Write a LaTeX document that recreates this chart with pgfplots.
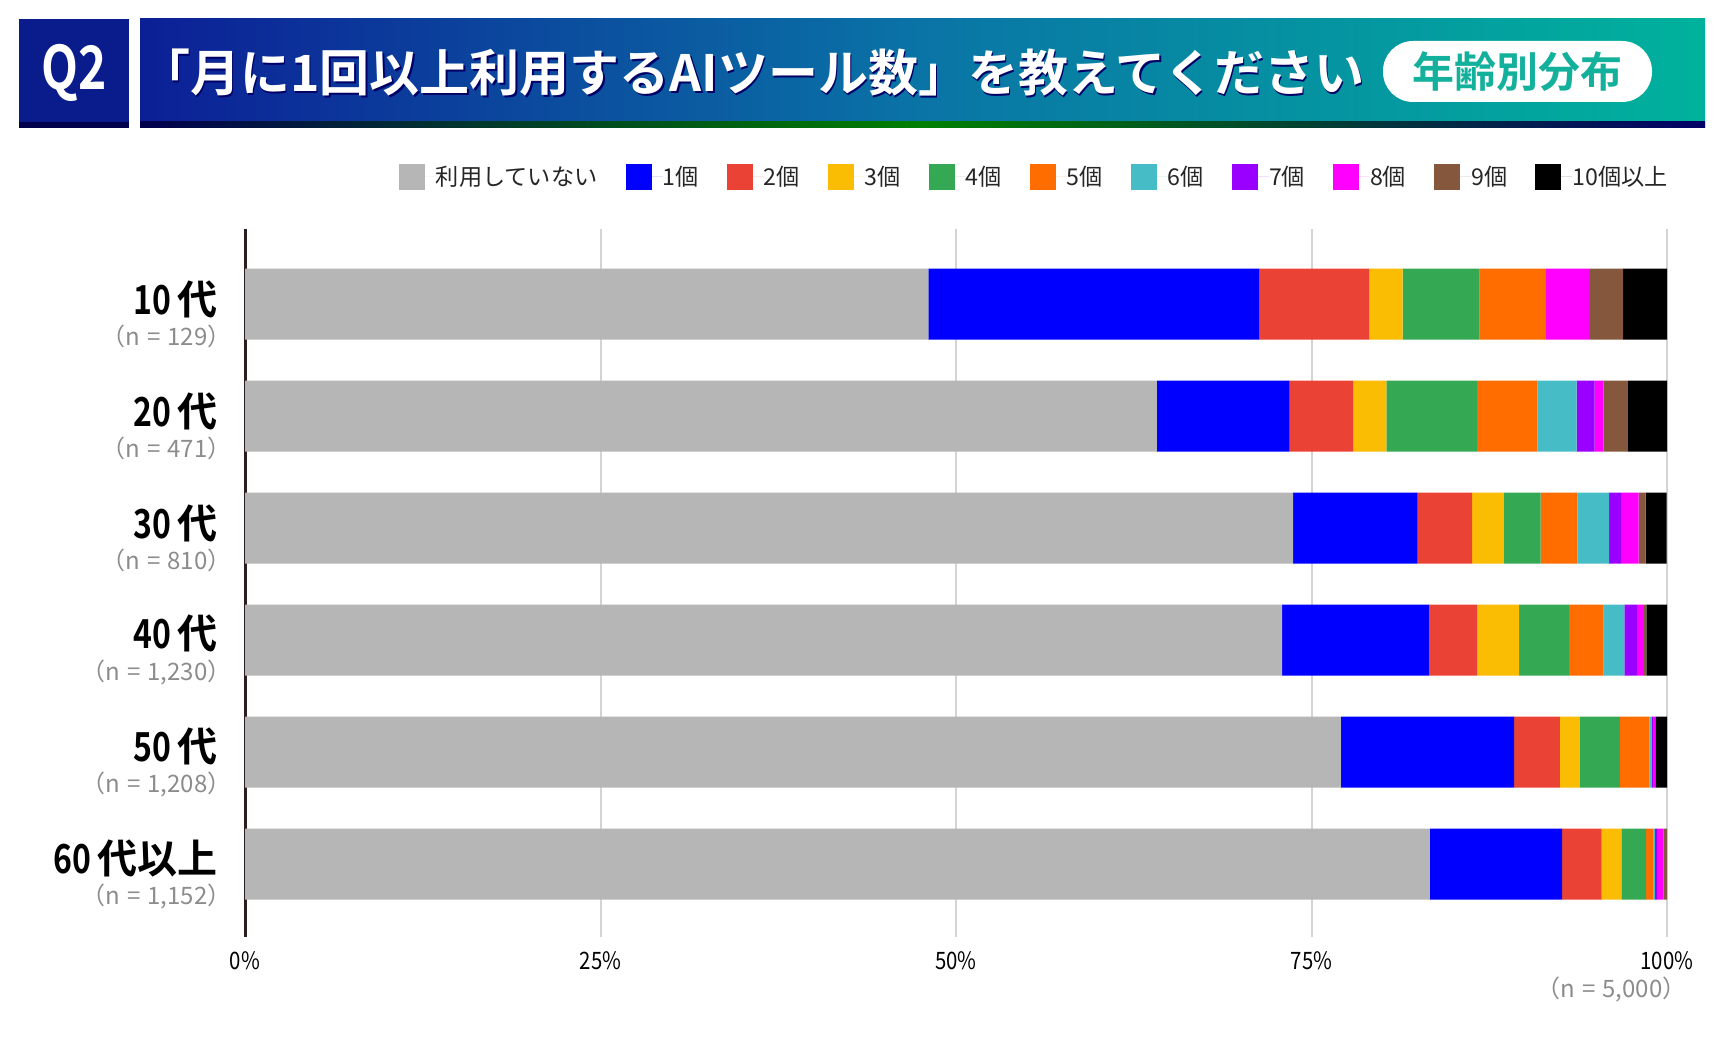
\documentclass[border=0pt]{standalone}
\usepackage{fontspec}
\usepackage{pgfplots}
\pgfplotsset{compat=1.18}
\usepackage{pgfplotstable}
\setmainfont{Noto Sans CJK JP}[BoldFont={Noto Sans CJK JP Bold}]
\newfontfamily\jp{Noto Sans CJK JP}
\newfontfamily\jpB{Noto Sans CJK JP Bold}
\newfontfamily\jpC{Noto Sans CJK JP}[FakeStretch=0.85]
\newfontfamily\jpBC{Noto Sans CJK JP Bold}[FakeStretch=0.8]

\definecolor{cnone}{HTML}{B6B6B6}
\definecolor{c1}{HTML}{0000FF}
\definecolor{c2}{HTML}{EA4335}
\definecolor{c3}{HTML}{FBBC04}
\definecolor{c4}{HTML}{34A853}
\definecolor{c5}{HTML}{FF6D01}
\definecolor{c6}{HTML}{46BDC6}
\definecolor{c7}{HTML}{9900FF}
\definecolor{c8}{HTML}{FF00FF}
\definecolor{c9}{HTML}{85573D}
\definecolor{c10}{HTML}{000000}
\definecolor{gridc}{HTML}{D4D4D4}
\definecolor{axc}{HTML}{2B1E1E}
\definecolor{subgray}{HTML}{8C8C8C}
\definecolor{q2blue}{HTML}{0A1C8C}
\definecolor{tl}{HTML}{0C1F96}
\definecolor{tm}{HTML}{0A74A6}
\definecolor{tr}{HTML}{00B29C}
\definecolor{pilltxt}{HTML}{13B09C}

% share of respondents (%), 10代 at y=5 ... 60代以上 at y=0
\pgfplotstableread{
idx none  c1    c2   c3   c4   c5   c6   c7   c8   c9   c10
5   48.06 23.26 7.75 2.33 5.43 4.65 0    0    3.10 2.33 3.10
4   64.12 9.34  4.46 2.34 6.37 4.25 2.76 1.27 0.64 1.70 2.76
3   73.70 8.77  3.83 2.22 2.59 2.59 2.22 0.86 1.23 0.49 1.48
2   72.93 10.33 3.41 2.93 3.50 2.44 1.46 0.89 0.49 0.16 1.46
1   77.07 12.17 3.23 1.41 2.81 2.07 0.17 0.08 0.17 0    0.83
0   83.33 9.29  2.78 1.39 1.74 0.52 0.09 0.17 0.43 0.26 0
}\agedata

\newcommand\nlab[1]{（n\hspace{3.5pt}=\hspace{3.5pt}#1）}
\newcommand\cat[3]{{\fontsize{20}{22}\selectfont\jpBC #1\hspace{3pt}\jpB #2}\\{\fontsize{12}{13}\selectfont\jp\color{subgray}\nlab{#3}\kern-7pt}}

\begin{document}
\begin{tikzpicture}
\path[use as bounding box] (0,0) rectangle (862pt,527pt);

% header band
\fill[q2blue] (9.5pt,463pt) rectangle (64.5pt,517.5pt);
\shade[left color=tl, right color=tr, middle color=tm] (70pt,463pt) rectangle (852.5pt,517.5pt);
\shade[left color=black!70!blue, right color=black!60!blue, middle color=black!50!green] (70pt,463pt) rectangle (852.5pt,466pt);
\fill[black!70!blue] (9.5pt,463pt) rectangle (64.5pt,466pt);
\node[text=white, font=\jpBC\fontsize{30}{32}\selectfont] at (37pt,490.5pt) {Q2};
\node[anchor=west, text=black!60!blue, font=\jpB\fontsize{25}{27}\selectfont] at (67.4pt,489.7pt) {「月に1回以上利用するAIツール数」を教えてください};
\node[anchor=west, text=white, font=\jpB\fontsize{25}{27}\selectfont] at (66.6pt,490.5pt) {「月に1回以上利用するAIツール数」を教えてください};
\fill[white, rounded corners=15pt] (691.5pt,476pt) rectangle (826pt,506.5pt);
\node[text=pilltxt, font=\jpB\fontsize{21}{23}\selectfont] at (758.7pt,491pt) {年齢別分布};

\begin{axis}[
  at={(122.5pt,58.5pt)}, anchor=south west,
  scale only axis, width=711pt, height=354pt,
  xbar stacked, bar width=35.5pt,
  xmin=0, xmax=100, ymin=-0.65, ymax=5.67,
  clip=false,
  axis line style={draw=none},
  major tick length=0pt,
  xtick={0,25,50,75,100},
  xticklabels={0\%,25\%,50\%,75\%,100\%},
  xticklabel style={font=\jpC\fontsize{12}{14}\selectfont, anchor=north, inner sep=0pt, yshift=-7pt},
  xmajorgrids, major x grid style={draw=gridc, line width=1pt},
  ytick={0,1,2,3,4,5},
  yticklabels={{\cat{60}{代以上}{1,152}},{\cat{50}{代}{1,208}},{\cat{40}{代}{1,230}},{\cat{30}{代}{810}},{\cat{20}{代}{471}},{\cat{10}{代}{129}}},
  yticklabel style={font=\fontsize{12}{15.9}\selectfont, align=right, anchor=east, inner sep=0pt, xshift=-13.5pt, yshift=-5.1pt},
  legend columns=11,
  legend style={at={(1,1)}, anchor=east, xshift=0.5pt, yshift=26pt, draw=none, fill=none, inner sep=0pt,
    nodes={inner sep=0pt},
    font=\jp\fontsize{11.6}{13}\selectfont, text=black!85,
    /tikz/every even column/.append style={column sep=14pt}},
  legend image code/.code={\fill[#1] (0pt,-6.5pt) rectangle (13pt,6.5pt); \path (0pt,0pt) -- (18.5pt,0pt);},
]
\addplot[fill=cnone, draw=none] table[x=none, y=idx] {\agedata};
\addplot[fill=c1, draw=none] table[x=c1, y=idx] {\agedata};
\addplot[fill=c2, draw=none] table[x=c2, y=idx] {\agedata};
\addplot[fill=c3, draw=none] table[x=c3, y=idx] {\agedata};
\addplot[fill=c4, draw=none] table[x=c4, y=idx] {\agedata};
\addplot[fill=c5, draw=none] table[x=c5, y=idx] {\agedata};
\addplot[fill=c6, draw=none] table[x=c6, y=idx] {\agedata};
\addplot[fill=c7, draw=none] table[x=c7, y=idx] {\agedata};
\addplot[fill=c8, draw=none] table[x=c8, y=idx] {\agedata};
\addplot[fill=c9, draw=none] table[x=c9, y=idx] {\agedata};
\addplot[fill=c10, draw=none] table[x=c10, y=idx] {\agedata};
\legend{利用していない,1個,2個,3個,4個,5個,6個,7個,8個,9個,10個以上}
\draw[axc, line width=1.5pt] (axis cs:0,-0.65) -- (axis cs:0,5.67);
\node[anchor=east, inner sep=0pt, text=subgray, font=\jp\fontsize{12}{13}\selectfont] at (rel axis cs:1,0) [xshift=10pt, yshift=-26.2pt] {\nlab{5,000}};
\end{axis}
\end{tikzpicture}
\end{document}
